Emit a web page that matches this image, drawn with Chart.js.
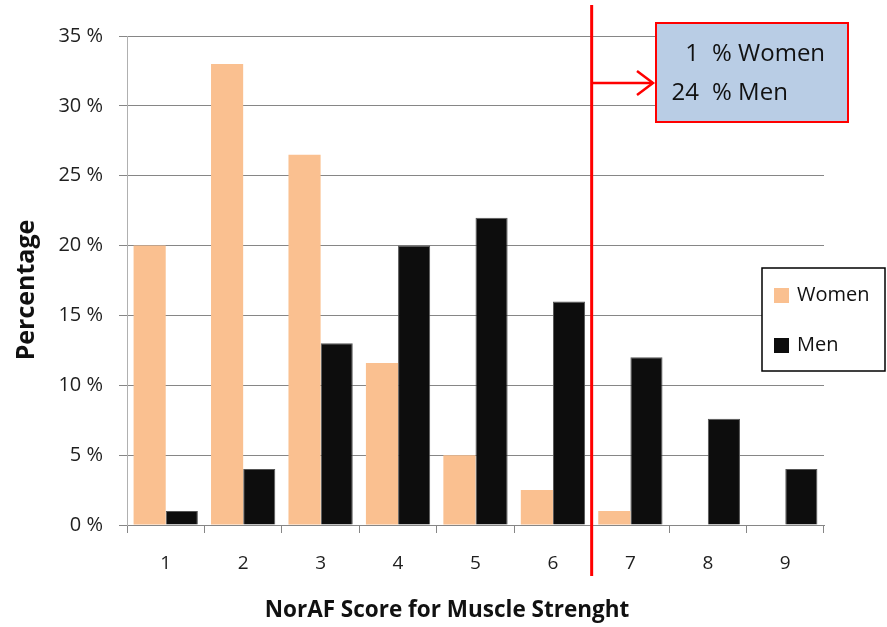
<!DOCTYPE html>
<html><head><meta charset="utf-8">
<script src="https://cdn.jsdelivr.net/npm/chart.js@4/dist/chart.umd.min.js"></script>
<style>html,body{margin:0;padding:0;background:#fff}#wrap{width:887px;height:627px;position:relative}</style>
</head><body><div id="wrap"><canvas id="c" width="887" height="627"></canvas></div>
<script>
const categories = ['1', '2', '3', '4', '5', '6', '7', '8', '9'];
const women = [20, 33, 26.5, 11.6, 5, 2.5, 1, 0, 0];
const men = [1, 4, 13, 20, 22, 16, 12, 7.6, 4];
const seriesNames = ['Women', 'Men'];
const yMax = 35;
const yStep = 5;
const xTitle = 'NorAF Score for Muscle Strenght';
const yTitle = 'Percentage';
const noteValues = ['1', '24'];
const noteLabels = ['% Women', '% Men'];
const cutoffIndex = 6; // line drawn before category "7"

const FONT = '"Open Sans", Lato, sans-serif';
const WOMEN_COLOR = '#FAC090';
const MEN_COLOR = '#0D0D0D';

const overlay = {
  id: 'overlay',
  afterDraw(chart) {
    const ctx = chart.ctx;
    const xs = chart.scales.x;
    const lineX = (xs.getPixelForValue(cutoffIndex - 1) + xs.getPixelForValue(cutoffIndex)) / 2;
    ctx.save();
    // axis titles
    ctx.fillStyle = '#111';
    ctx.textAlign = 'center';
    ctx.textBaseline = 'middle';
    ctx.font = 'bold 22.5px ' + FONT;
    ctx.fillText(xTitle, 447, 611);
    ctx.save();
    ctx.translate(27, 290);
    ctx.rotate(-Math.PI / 2);
    ctx.font = 'bold 25px ' + FONT;
    ctx.fillText(yTitle, 0, 0);
    ctx.restore();
    // red vertical cut-off line
    ctx.strokeStyle = '#FF0000';
    ctx.lineWidth = 3;
    ctx.beginPath();
    ctx.moveTo(lineX, 5);
    ctx.lineTo(lineX, 576);
    ctx.stroke();
    // arrow
    const ay = 83;
    ctx.lineWidth = 2.5;
    ctx.beginPath();
    ctx.moveTo(lineX, ay);
    ctx.lineTo(653, ay);
    ctx.stroke();
    ctx.beginPath();
    ctx.moveTo(637, ay - 12);
    ctx.lineTo(653, ay);
    ctx.lineTo(637, ay + 12);
    ctx.stroke();
    // note box
    ctx.fillStyle = '#B9CDE5';
    ctx.fillRect(656, 23, 192, 99);
    ctx.strokeStyle = '#FF0000';
    ctx.lineWidth = 2;
    ctx.strokeRect(656, 23, 192, 99);
    ctx.fillStyle = '#111';
    ctx.font = '24px ' + FONT;
    ctx.textBaseline = 'middle';
    const rows = [54, 93];
    noteValues.forEach((v, i) => {
      ctx.textAlign = 'right';
      ctx.fillText(v, 699, rows[i]);
      ctx.textAlign = 'left';
      ctx.fillText(noteLabels[i], 712, rows[i]);
    });
    // legend
    ctx.fillStyle = '#fff';
    ctx.fillRect(762, 268, 123, 103);
    ctx.strokeStyle = '#000';
    ctx.lineWidth = 1.5;
    ctx.strokeRect(762, 268, 123, 103);
    const ly = [295, 345];
    chart.data.datasets.forEach((ds, i) => {
      ctx.fillStyle = ds.backgroundColor;
      ctx.fillRect(774, ly[i] - 7, 15, 15);
      ctx.fillStyle = '#111';
      ctx.textAlign = 'left';
      ctx.font = '20px ' + FONT;
      ctx.fillText(ds.label, 797, ly[i]);
    });
    ctx.restore();
  }
};

new Chart(document.getElementById('c'), {
  type: 'bar',
  data: {
    labels: categories,
    datasets: [
      { label: seriesNames[0], data: women, backgroundColor: WOMEN_COLOR, borderWidth: 0 },
      { label: seriesNames[1], data: men, backgroundColor: MEN_COLOR, borderColor: '#555', borderWidth: 1 }
    ]
  },
  options: {
    responsive: false,
    animation: false,
    layout: { padding: { top: 36, right: 63, left: 0, bottom: 0 } },
    datasets: { bar: { categoryPercentage: 0.83, barPercentage: 1 } },
    plugins: { legend: { display: false }, tooltip: { enabled: false } },
    scales: {
      x: {
        afterFit(s) { s.height = 102; },
        grid: { display: true, drawOnChartArea: false, drawTicks: true, tickLength: 8, color: '#868686', offset: true },
        border: { color: '#868686', width: 1 },
        ticks: { color: '#1f1f1f', font: { family: FONT, size: 19 }, padding: 19 },
        title: { display: false }
      },
      y: {
        afterFit(s) { s.width = 127; },
        min: 0, max: yMax,
        grid: { color: '#868686', tickLength: 8 },
        border: { color: '#b0b0b0', width: 1 },
        ticks: { stepSize: yStep, color: '#1f1f1f', font: { family: FONT, size: 20 }, padding: 16,
                 callback: v => v + ' %' },
        title: { display: false }
      }
    }
  },
  plugins: [overlay]
});
</script></body></html>
